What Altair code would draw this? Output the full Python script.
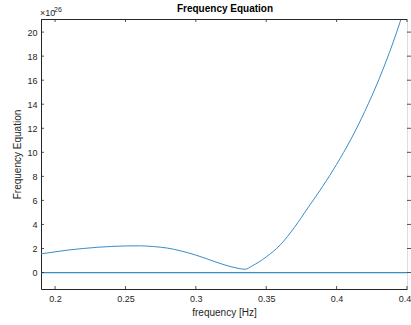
import altair as alt
import pandas as pd

# Data (values in units of 1e26)
freq = [0.19, 0.20, 0.21, 0.22, 0.23, 0.24, 0.25, 0.26, 0.27, 0.28, 0.29, 0.30,
        0.31, 0.32, 0.33, 0.335, 0.34, 0.35, 0.36, 0.37, 0.38, 0.39, 0.40, 0.41,
        0.42, 0.43, 0.44, 0.45]
value = [1.55, 1.72, 1.88, 2.0, 2.1, 2.17, 2.21, 2.22, 2.16, 2.03, 1.78, 1.45,
         1.05, 0.65, 0.35, 0.27, 0.55, 1.3, 2.3, 3.75, 5.45, 7.15, 9.0, 11.05,
         13.4, 16.05, 19.1, 22.6]
zero_x = [0.19, 0.45]
zero_y = [0.0, 0.0]
x_ticks = [0.2, 0.25, 0.3, 0.35, 0.4, 0.45]
y_ticks = [0, 2, 4, 6, 8, 10, 12, 14, 16, 18, 20]

W, H = 366, 270
FONT = "Liberation Sans"
TXT = "#262626"
AX = "#262626"
BLUE = "#3a8cc8"

xs = alt.Scale(domain=[0.19, 0.45], nice=False, zero=False)
ys = alt.Scale(domain=[-1.37, 21.09], nice=False, zero=False)

curve_df = pd.DataFrame({"f": freq, "v": value})
zero_df = pd.DataFrame({"f": zero_x, "v": zero_y})
xt_df = pd.DataFrame({"f": x_ticks})
yt_df = pd.DataFrame({"v": y_ticks})
one = pd.DataFrame({"a": [0]})

x_axis = alt.Axis(values=x_ticks, format="~g", title="frequency [Hz]", ticks=False,
                  grid=False, domain=True, domainColor=AX, labelFont=FONT, labelFontSize=9,
                  labelColor=TXT, labelPadding=5, labelFlush=False, labelOverlap=False,
                  titleFont=FONT, titleFontSize=10, titleFontWeight="normal",
                  titleColor=TXT, titlePadding=4)
y_axis = alt.Axis(values=y_ticks, format="d", title="Frequency Equation", ticks=False,
                  grid=False, domain=True, domainColor=AX, labelFont=FONT, labelFontSize=9,
                  labelColor=TXT, labelPadding=4, labelFlush=False, labelOverlap=False,
                  titleFont=FONT, titleFontSize=10, titleFontWeight="normal",
                  titleColor=TXT, titlePadding=4)


def X():
    return alt.X("f:Q", scale=xs, axis=x_axis)


def Y():
    return alt.Y("v:Q", scale=ys, axis=y_axis)


curve = alt.Chart(curve_df).mark_line(color=BLUE, strokeWidth=1, clip=True,
                                      interpolate="monotone").encode(x=X(), y=Y())
zero = alt.Chart(zero_df).mark_line(color=BLUE, strokeWidth=1.2, clip=True).encode(
    x=X(), y=Y())
tick_style = dict(color=AX, strokeWidth=0.8)
bottom_ticks = alt.Chart(xt_df).mark_rule(**tick_style).encode(
    x=X(), y=alt.value(H), y2=alt.value(H - 3))
top_ticks = alt.Chart(xt_df).mark_rule(**tick_style).encode(
    x=X(), y=alt.value(0), y2=alt.value(3))
left_ticks = alt.Chart(yt_df).mark_rule(**tick_style).encode(
    y=Y(), x=alt.value(0), x2=alt.value(3))
right_ticks = alt.Chart(yt_df).mark_rule(**tick_style).encode(
    y=Y(), x=alt.value(W), x2=alt.value(W + 4))
top_line = alt.Chart(one).mark_rule(color=AX, strokeWidth=1).encode(
    x=alt.value(0), x2=alt.value(W), y=alt.value(0.5))

title_txt = alt.Chart(one).mark_text(text="Frequency Equation", font=FONT, fontSize=10,
                                     fontWeight="bold", color="#000000", align="center",
                                     baseline="alphabetic").encode(
    x=alt.value(W / 2 + 1), y=alt.value(-7.5))
exp_base = alt.Chart(one).mark_text(text="×10", font=FONT, fontSize=9, color=TXT,
                                    align="left", baseline="alphabetic").encode(
    x=alt.value(-1), y=alt.value(-3))
exp_pow = alt.Chart(one).mark_text(text="26", font=FONT, fontSize=7, color=TXT,
                                   align="left", baseline="alphabetic").encode(
    x=alt.value(13), y=alt.value(-7.5))

chart = alt.layer(
    curve, zero, bottom_ticks, top_ticks, left_ticks, right_ticks, top_line,
    title_txt, exp_base, exp_pow
).properties(
    width=W, height=H,
    autosize=alt.AutoSizeParams(type="none"),
    padding={"left": 41, "top": 19, "right": 4, "bottom": 36},
).configure_view(stroke=None).configure(background="white")

chart.save("out.html", embed_options={"renderer": "svg", "actions": False})
